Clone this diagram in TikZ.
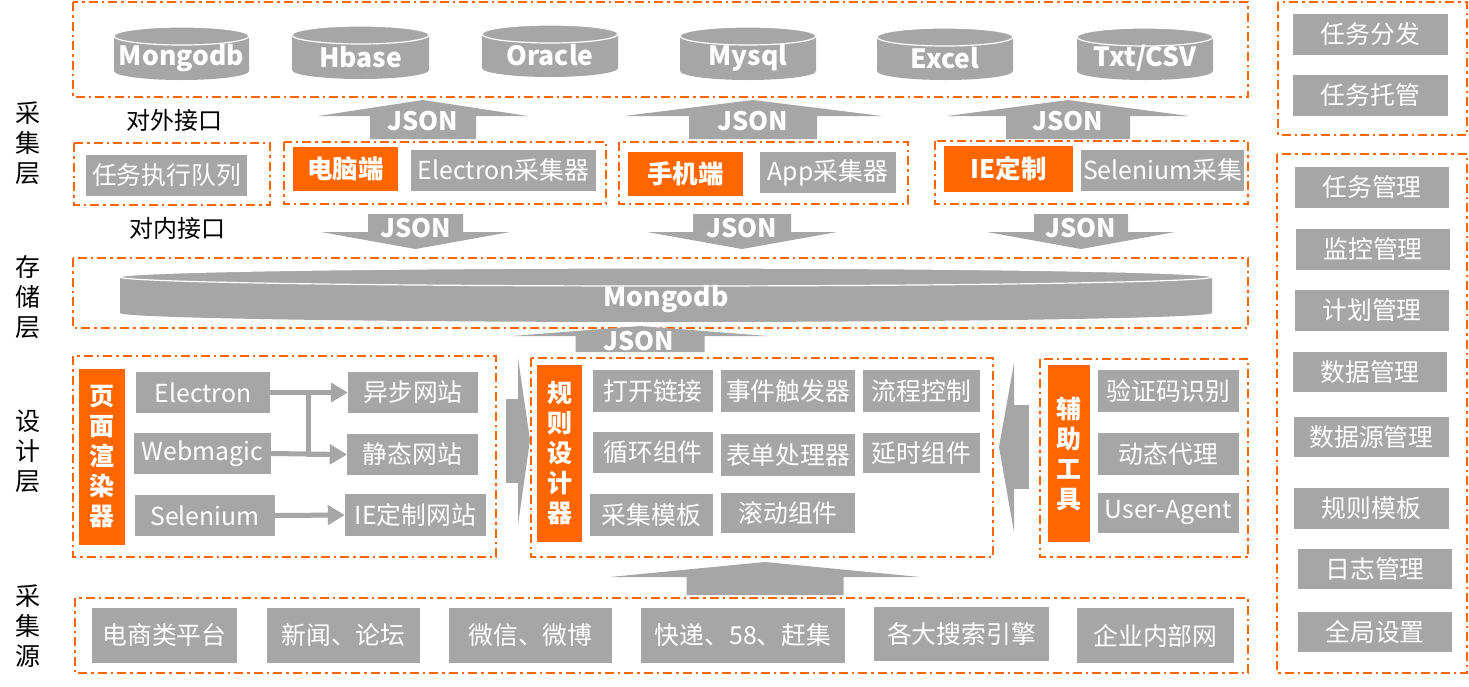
\documentclass[tikz,border=0pt]{standalone}
\usepackage{fontspec}
\setmainfont{Noto Sans CJK SC}
\usetikzlibrary{arrows.meta}
\definecolor{og}{HTML}{FF6600}
\definecolor{gy}{HTML}{A6A6A6}
\newcommand\dbcyl[6]{%
  \fill[gy] ({#2-#3},{#4+9}) -- ({#2-#3},{#5-9}) arc[start angle=180,end angle=360,x radius=#3pt,y radius=9pt] -- ({#2+#3},{#4+9}) arc[start angle=0,end angle=180,x radius=#3pt,y radius=9pt] -- cycle;
  \draw[white,line width=1.2pt] (#2,{#4+9}) ellipse[x radius=#3pt,y radius=9pt];
  \node[ctxt] (#1) at (#2,{(#4+9+#5)/2}) {#6};}
\newcommand\uparr[6]{% cx, tipy, wingy, hh, sh, bottom
  \fill[gy] (#1,#2) -- ({#1+#4},#3) -- ({#1+#5},#3) -- ({#1+#5},#6) -- ({#1-#5},#6) -- ({#1-#5},#3) -- ({#1-#4},#3) -- cycle;}
\newcommand\downarr[6]{% cx, topy, wingy, tipy, hh, sh
  \fill[gy] ({#1-#6},#2) -- ({#1+#6},#2) -- ({#1+#6},#3) -- ({#1+#5},#3) -- (#1,#4) -- ({#1-#5},#3) -- ({#1-#6},#3) -- cycle;}
\begin{document}
\begin{tikzpicture}[x=1pt,y=-1pt,
  dbox/.style={draw=og, line width=2.2pt, dash pattern=on 9pt off 4pt on 2.5pt off 4pt},
  gbox/.style={fill=gy, text=white, inner sep=0pt, font=\fontsize{24.8}{28}\selectfont},
  obox/.style={fill=og, text=white, inner sep=0pt, font=\bfseries\fontsize{25.5}{28}\selectfont},
  vbox/.style={fill=og, text=white, inner sep=0pt, align=center, font=\bfseries\fontsize{25}{30}\selectfont},
  lab/.style={text=black, inner sep=0pt, align=center, font=\fontsize{25}{30}\selectfont},
  ctxt/.style={text=white, inner sep=0pt, font=\bfseries\fontsize{26.5}{28}\selectfont},
  jtxt/.style={text=white, inner sep=0pt, font=\bfseries\fontsize{25.5}{28}\selectfont},
  conn/.style={draw=gy, line width=5pt, -{Triangle[length=17pt,width=19pt]}}]
\useasboundingbox (0,0) rectangle (1469,686);

% ---------- dashed frames ----------
\draw[dbox] (73,2) rectangle (1248,97);
\draw[dbox] (74,143) rectangle (270,205);
\draw[dbox] (284,142) rectangle (606,204);
\draw[dbox] (619,142) rectangle (908,204);
\draw[dbox] (935,141) rectangle (1248,204);
\draw[dbox] (73,258) rectangle (1248,328);
\draw[dbox] (73,356) rectangle (496,557);
\draw[dbox] (531,358) rectangle (993,557);
\draw[dbox] (1040,359) rectangle (1248,557);
\draw[dbox] (75,598) rectangle (1248,673);
\draw[dbox] (1278,2) rectangle (1467,135);
\draw[dbox] (1277,154) rectangle (1467,673);

% ---------- layer labels ----------
\node[lab] (lcj) at (28,143) {采\\集\\层};
\node[lab] (lcc) at (28,297) {存\\储\\层};
\node[lab] (lsj) at (28,451) {设\\计\\层};
\node[lab] (lcy) at (28,626) {采\\集\\源};
\node[lab, font=\fontsize{24}{28}\selectfont] (wai) at (174,120) {对外接口};
\node[lab, font=\fontsize{24}{28}\selectfont] (nei) at (177,228) {对内接口};

% ---------- databases ----------
\dbcyl{mongo}{181.5}{67.5}{27}{80}{Mongodb}
\dbcyl{hbase}{360.5}{68.5}{26}{79}{Hbase}
\dbcyl{oracle}{550}{68}{25}{77}{Oracle}
\dbcyl{mysql}{748}{68}{27}{80}{Mysql}
\dbcyl{excel}{945}{68}{28}{80}{Excel}
\dbcyl{txt}{1145}{68}{28}{80}{Txt/CSV}

% ---------- up JSON arrows (outer interface) ----------
\uparr{423}{100}{116}{105}{53}{139}
\node[jtxt] (j1) at (423,121) {JSON};
\uparr{753}{100}{116}{129}{64}{139}
\node[jtxt] (j2) at (753,121) {JSON};
\uparr{1068}{100}{116}{121}{62}{139}
\node[jtxt] (j3) at (1068,121) {JSON};

% ---------- collectors row ----------
\node[gbox, minimum width=161, minimum height=41] (queue) at (166.5,175.5) {任务执行队列};
\node[obox, minimum width=105, minimum height=44] (pc) at (345.5,169) {电脑端};
\node[gbox, minimum width=185, minimum height=41] (elc) at (503.5,170.5) {Electron采集器};
\node[obox, minimum width=115, minimum height=44] (mob) at (685.5,174) {手机端};
\node[gbox, minimum width=136, minimum height=41] (app) at (828,172.5) {App采集器};
\node[obox, minimum width=129, minimum height=46] (ie) at (1008.5,169) {IE定制};
\node[gbox, minimum width=163, minimum height=41] (selc) at (1162.5,170.5) {Selenium采集};

% ---------- down JSON arrows (inner interface) ----------
\downarr{415.5}{214}{232}{249}{94.5}{47.5}
\node[jtxt] (j4) at (415.5,228) {JSON};
\downarr{742}{214}{232}{249}{95}{49}
\node[jtxt] (j5) at (742,228) {JSON};
\downarr{1081}{214}{232}{249}{94}{47}
\node[jtxt] (j6) at (1081,228) {JSON};

% ---------- storage ----------
\dbcyl{store}{666}{546}{268}{322}{Mongodb}

% ---------- JSON up into storage ----------
\uparr{640}{326}{336}{128}{64.5}{352}
\node[jtxt] (j7) at (639,341) {JSON};

% ---------- design layer: renderer ----------
\node[vbox, minimum width=46, minimum height=176] (render) at (102,457) {页\\面\\渲\\染\\器};
\node[gbox, minimum width=134, minimum height=41] (electron) at (203,392.5) {Electron};
\node[gbox, minimum width=137, minimum height=41] (webmagic) at (202.5,453.5) {Webmagic};
\node[gbox, minimum width=140, minimum height=41] (selen) at (205,515.5) {Selenium};
\node[gbox, minimum width=130, minimum height=41] (async) at (413,392.5) {异步网站};
\node[gbox, minimum width=131, minimum height=41] (static) at (412.5,454.5) {静态网站};
\node[gbox, minimum width=141, minimum height=42] (ieweb) at (415.5,515) {IE定制网站};
\draw[conn] (electron.east) -- ++(38,0) |- (static.west);
\draw[conn] (electron.east) -- (async.west);
\draw[conn] (webmagic.east) -- (static.west);
\draw[conn] (selen.east) -- (ieweb.west);

% big side arrows
\fill[gy] (506,399) rectangle (518.5,483);
\fill[gy] (518,358) -- (530,440) -- (518,525) -- cycle;
\fill[gy] (1013.5,405) rectangle (1029,489);
\fill[gy] (1014,363) -- (999,447) -- (1014,532) -- cycle;

% ---------- design layer: rule designer ----------
\node[vbox, minimum width=45, minimum height=177] (rule) at (559.5,453.5) {规\\则\\设\\计\\器};
\node[gbox, minimum width=120, minimum height=42] (open) at (653,391) {打开链接};
\node[gbox, minimum width=134, minimum height=42] (event) at (788,391) {事件触发器};
\node[gbox, minimum width=117, minimum height=42] (flow) at (921.5,391) {流程控制};
\node[gbox, minimum width=120, minimum height=41] (loop) at (653,452.5) {循环组件};
\node[gbox, minimum width=134, minimum height=42] (form) at (788,455) {表单处理器};
\node[gbox, minimum width=117, minimum height=40] (delay) at (921.5,453) {延时组件};
\node[gbox, minimum width=123, minimum height=42] (tmpl) at (651.5,515) {采集模板};
\node[gbox, minimum width=134, minimum height=40] (scroll) at (788,513) {滚动组件};

% ---------- design layer: aux tools ----------
\node[vbox, minimum width=42, minimum height=177] (aux) at (1069,453.5) {辅\\助\\工\\具};
\node[gbox, minimum width=141, minimum height=42] (captcha) at (1168.5,391) {验证码识别};
\node[gbox, minimum width=141, minimum height=42] (proxy) at (1168.5,454) {动态代理};
\node[gbox, minimum width=141, minimum height=40] (ua) at (1168.5,513) {User-Agent};

% ---------- sources up arrow ----------
\uparr{765}{562}{577}{155}{78.5}{595}

% ---------- sources ----------
\node[gbox, minimum width=145, minimum height=55] (s1) at (164.5,635.5) {电商类平台};
\node[gbox, minimum width=153, minimum height=55] (s2) at (343.5,635.5) {新闻、论坛};
\node[gbox, minimum width=163, minimum height=55] (s3) at (530.5,635.5) {微信、微博};
\node[gbox, minimum width=204, minimum height=55] (s4) at (743,635.5) {快递、58、赶集};
\node[gbox, minimum width=175, minimum height=54] (s5) at (961.5,634) {各大搜索引擎};
\node[gbox, minimum width=157, minimum height=55] (s6) at (1155.5,635.5) {企业内部网};

% ---------- right column ----------
\node[gbox, minimum width=155, minimum height=41] (r1) at (1370.5,34.5) {任务分发};
\node[gbox, minimum width=155, minimum height=41] (r2) at (1370.5,95.5) {任务托管};
\node[gbox, minimum width=154, minimum height=41] (r3) at (1372,187.5) {任务管理};
\node[gbox, minimum width=154, minimum height=41] (r4) at (1373,249.5) {监控管理};
\node[gbox, minimum width=154, minimum height=41] (r5) at (1372,310.5) {计划管理};
\node[gbox, minimum width=154, minimum height=40] (r6) at (1370,372) {数据管理};
\node[gbox, minimum width=155, minimum height=40] (r7) at (1371.5,437) {数据源管理};
\node[gbox, minimum width=155, minimum height=41] (r8) at (1371.5,508.5) {规则模板};
\node[gbox, minimum width=154, minimum height=40] (r9) at (1375,569) {日志管理};
\node[gbox, minimum width=154, minimum height=40] (r10) at (1375,632) {全局设置};
\end{tikzpicture}
\end{document}
